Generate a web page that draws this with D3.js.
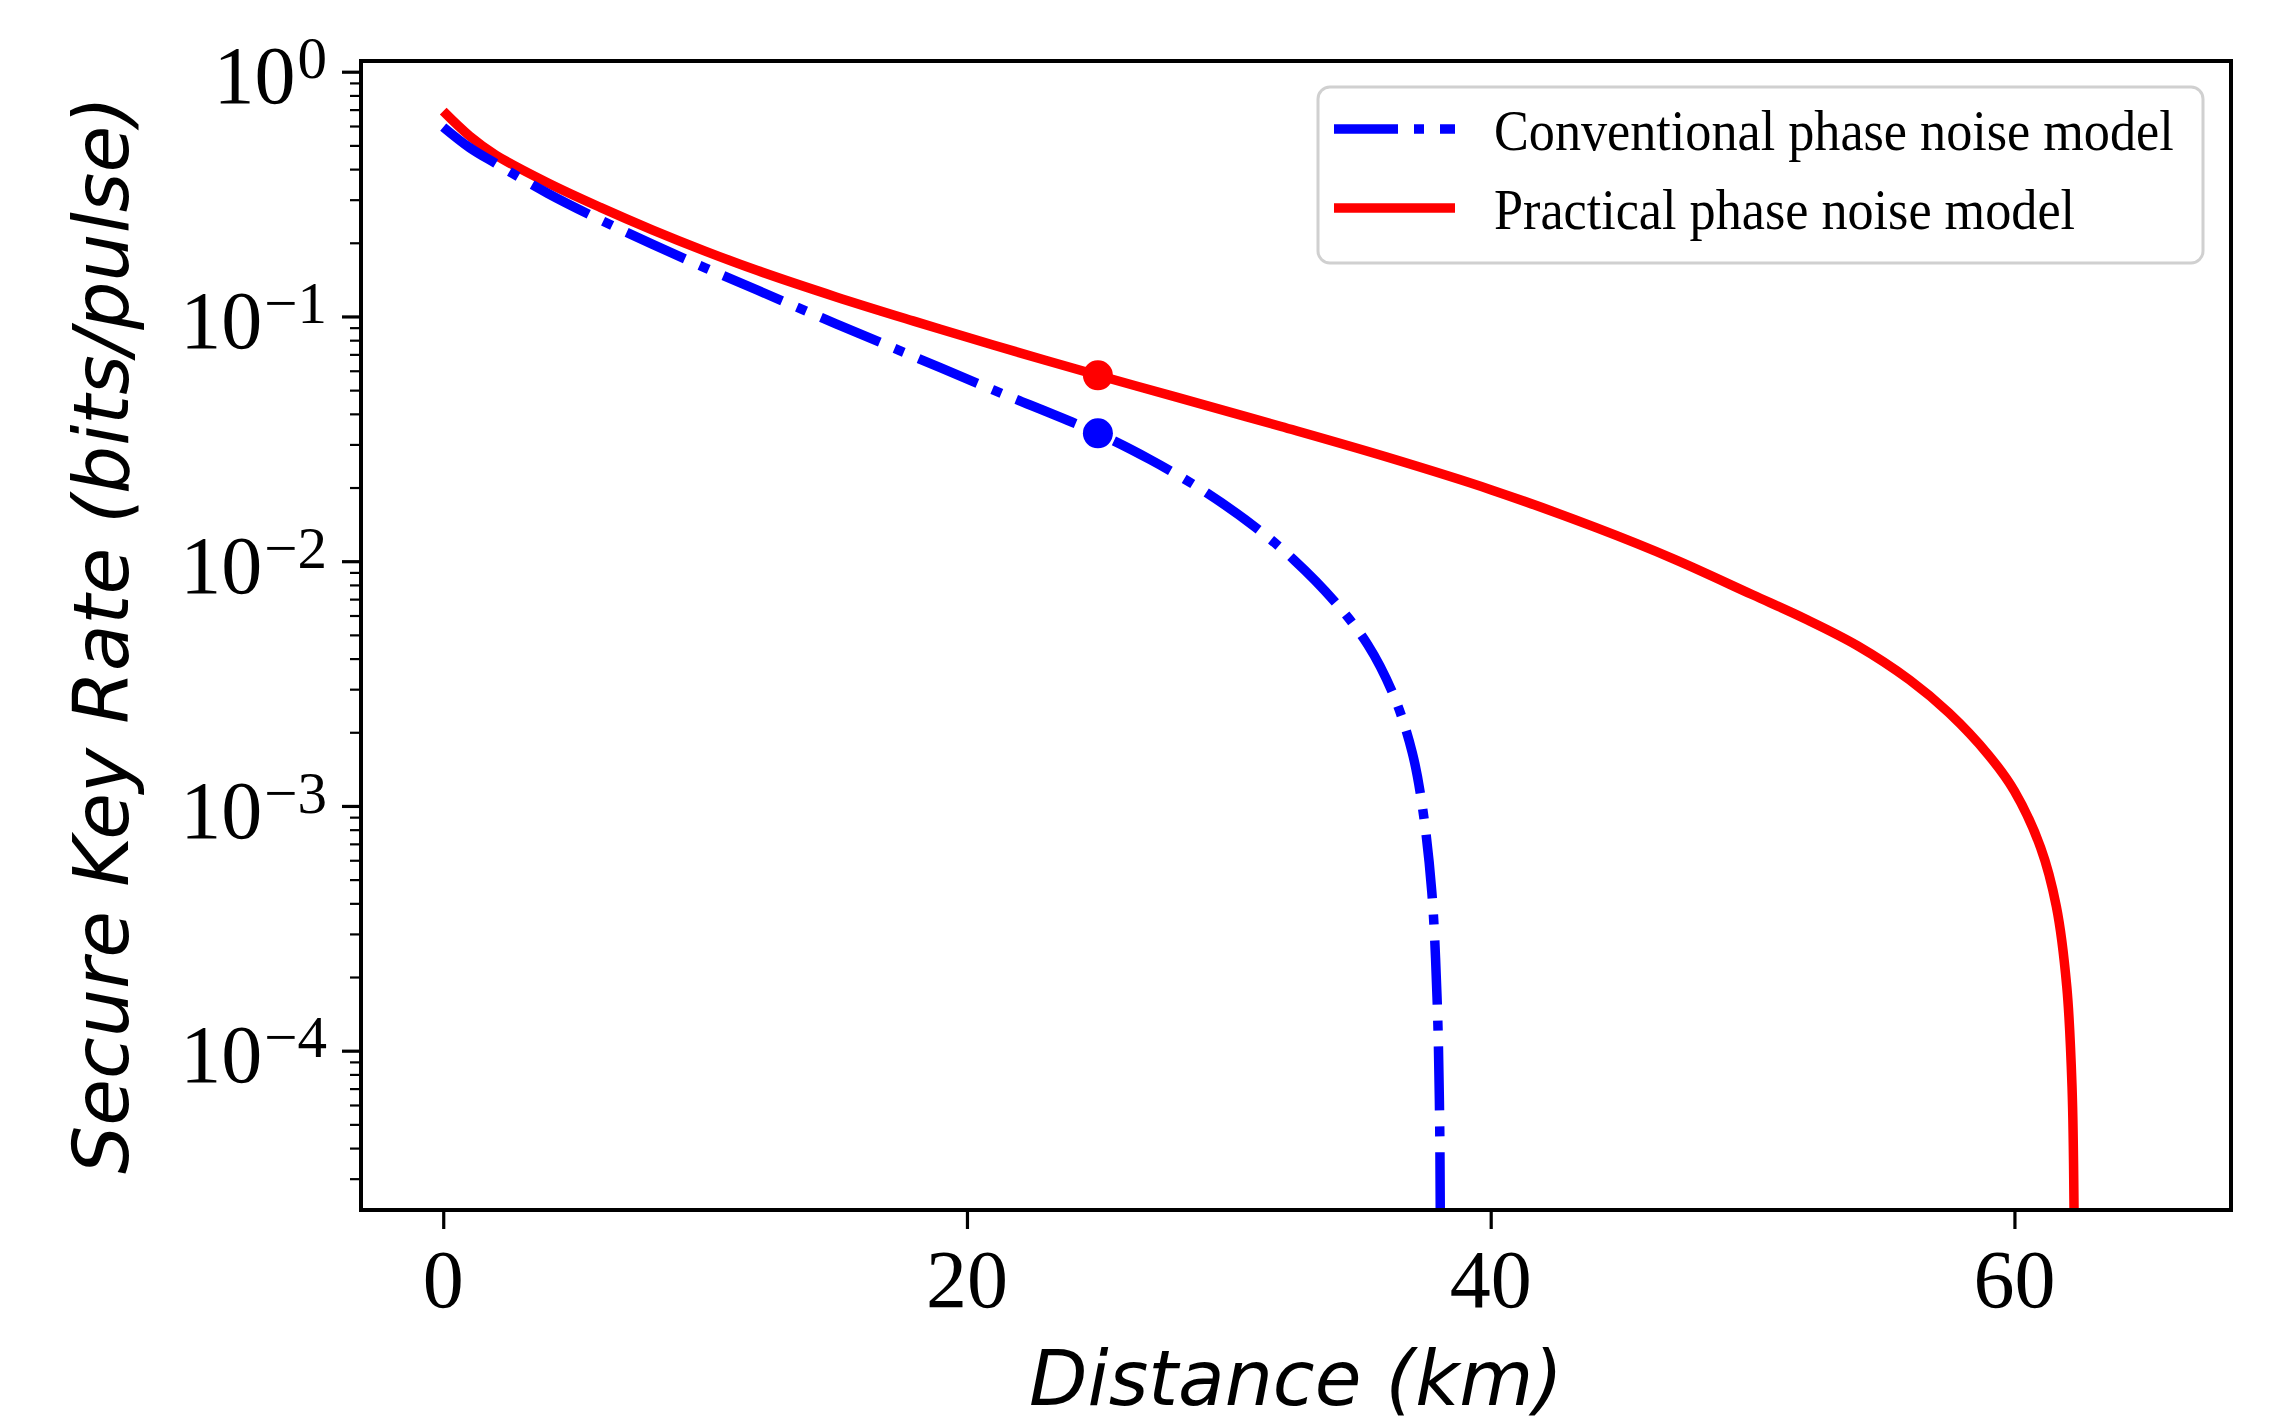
<html>
<head>
<script src="https://d3js.org/d3.v7.min.js"></script>
<style>
  body { margin: 0; background: #fff; }
</style>
</head>
<body>
<svg width="2279" height="1426"></svg>
<script>
// practical phase noise model (red, solid)
const practicalDist = [0, 1, 2, 4, 6, 8, 10, 12, 15, 18, 21, 25, 28, 32, 36, 40, 44, 47, 50, 52, 54, 56, 57.5, 59, 60, 61, 61.6, 62, 62.2, 62.28, 62.32];
const practicalRate = [0.690, 0.547, 0.457, 0.351, 0.279, 0.2254, 0.185, 0.154, 0.1202, 0.0955, 0.0764, 0.0575, 0.0468, 0.0355, 0.0267, 0.0196, 0.01374, 0.0102, 0.00729, 0.00582, 0.00452, 0.00327, 0.0024, 0.00162, 0.00115, 0.000676, 0.000389, 0.000182, 0.0000708, 0.00002, 0.000001];

// conventional phase noise model (blue, dash-dot)
const conventionalDist = [0, 1, 2, 4, 6, 8, 10, 12, 15, 18, 21, 25, 27, 29, 31, 32.5, 34, 35.3, 36.3, 37, 37.4, 37.75, 37.95, 38.04, 38.08, 38.1];
const conventionalRate = [0.594, 0.490, 0.422, 0.318, 0.248, 0.197, 0.158, 0.128, 0.0933, 0.0684, 0.0501, 0.0333, 0.026, 0.0195, 0.0138, 0.0101, 0.00692, 0.00457, 0.00282, 0.00166, 0.000977, 0.000447, 0.000166, 0.000063, 0.000016, 0.000001];

// highlighted points
const markerDist = [25, 25];
const markerRate = [0.0575, 0.0333];

const legendLabels = ['Conventional phase noise model', 'Practical phase noise model'];
const xTicks = [0, 20, 40, 60];
const yExponents = [0, -1, -2, -3, -4];

const plotL = 361, plotR = 2231, plotT = 61, plotB = 1210;
const blue = '#0000ff', red = '#ff0000';
const dash = '64,16,10,16';

const x = d3.scaleLinear().domain([-3.14, 68.27]).range([plotL, plotR]);
const y = d3.scaleLog().domain([2.234e-5, 1.106]).range([plotB, plotT]);

const svg = d3.select('svg');

svg.append('defs').append('clipPath').attr('id', 'plot')
  .append('rect').attr('x', plotL).attr('y', plotT)
  .attr('width', plotR - plotL).attr('height', plotB - plotT);

// minor y ticks
let minor = [];
for (let e = -5; e <= 0; e++)
  for (let m = 2; m <= 9; m++) {
    let v = m * Math.pow(10, e);
    if (v > y.domain()[0] && v < y.domain()[1]) minor.push(v);
  }

let yMinor = svg.append('g').attr('transform', `translate(${plotL},0)`)
  .call(d3.axisLeft(y).tickValues(minor).tickSize(11).tickFormat(''));
yMinor.select('.domain').remove();
yMinor.selectAll('line').attr('stroke', '#000').attr('stroke-width', 2.2);

let yMajor = svg.append('g').attr('transform', `translate(${plotL},0)`)
  .call(d3.axisLeft(y).tickValues(yExponents.map(e => Math.pow(10, e))).tickSize(19).tickFormat(''));
yMajor.select('.domain').remove();
yMajor.selectAll('line').attr('stroke', '#000').attr('stroke-width', 3.2);

let xAxis = svg.append('g').attr('transform', `translate(0,${plotB})`)
  .call(d3.axisBottom(x).tickValues(xTicks).tickSize(19).tickFormat(''));
xAxis.select('.domain').remove();
xAxis.selectAll('line').attr('stroke', '#000').attr('stroke-width', 3.2);

// tick labels
const serif = "'Liberation Serif', 'DejaVu Serif', serif";

svg.append('g').selectAll('text')
  .data(xTicks)
  .join('text')
  .attr('x', d => x(d))
  .attr('y', 1307)
  .attr('text-anchor', 'middle')
  .style('font-family', serif)
  .style('font-size', '82px')
  .text(d => d);

let yl = svg.append('g').selectAll('text')
  .data(yExponents)
  .join('text')
  .attr('x', 327)
  .attr('y', d => y(Math.pow(10, d)) + 31.6)
  .attr('text-anchor', 'end')
  .style('font-family', serif)
  .style('font-size', '82px');
yl.append('tspan').text('10');
yl.append('tspan')
  .attr('dx', 2).attr('dy', -25)
  .style('font-size', '59px')
  .text(d => d === 0 ? '0' : '\u2212' + (-d));

// curves
const line = d3.line()
  .x(d => x(d[0]))
  .y(d => y(d[1]))
  .curve(d3.curveCatmullRom.alpha(0.5));

let plot = svg.append('g').attr('clip-path', 'url(#plot)');

plot.append('path')
  .datum(practicalDist.map((d, i) => [d, practicalRate[i]]))
  .attr('d', line)
  .attr('fill', 'none')
  .attr('stroke', red)
  .attr('stroke-width', 9.5);

plot.append('path')
  .datum(conventionalDist.map((d, i) => [d, conventionalRate[i]]))
  .attr('d', line)
  .attr('fill', 'none')
  .attr('stroke', blue)
  .attr('stroke-width', 9.5)
  .attr('stroke-dasharray', dash);

plot.selectAll('circle')
  .data(markerDist)
  .join('circle')
  .attr('cx', d => x(d))
  .attr('cy', (d, i) => y(markerRate[i]))
  .attr('r', 15)
  .attr('fill', (d, i) => i === 0 ? red : blue);

// frame
svg.append('rect')
  .attr('x', plotL).attr('y', plotT)
  .attr('width', plotR - plotL).attr('height', plotB - plotT)
  .attr('fill', 'none').attr('stroke', '#000').attr('stroke-width', 4);

// legend
let leg = svg.append('g');
leg.append('rect')
  .attr('x', 1318).attr('y', 87).attr('width', 885).attr('height', 176)
  .attr('rx', 12)
  .attr('fill', '#fff').attr('fill-opacity', 0.8)
  .attr('stroke', '#d0d0d0').attr('stroke-width', 3);

let rows = leg.selectAll('g.row')
  .data(legendLabels)
  .join('g')
  .attr('class', 'row')
  .attr('transform', (d, i) => `translate(0,${129 + i * 79})`);

rows.append('line')
  .attr('x1', 1334).attr('x2', 1455)
  .attr('stroke', (d, i) => i === 0 ? blue : red)
  .attr('stroke-width', 9.5)
  .attr('stroke-dasharray', (d, i) => i === 0 ? dash : null);

rows.append('g')
  .attr('transform', 'translate(1494,21) scale(0.9,1)')
  .append('text')
  .style('font-family', serif)
  .style('font-size', '58px')
  .text(d => d);

// axis titles
svg.append('text')
  .attr('x', (plotL + plotR) / 2).attr('y', 1405)
  .attr('text-anchor', 'middle')
  .style('font-family', "'DejaVu Sans', sans-serif")
  .style('font-style', 'italic')
  .style('font-size', '76px')
  .text('Distance (km)');

svg.append('text')
  .attr('transform', 'translate(128,635) rotate(-90)')
  .attr('text-anchor', 'middle')
  .style('font-family', "'DejaVu Sans', sans-serif")
  .style('font-style', 'italic')
  .style('font-size', '76px')
  .text('Secure Key Rate (bits/pulse)');
</script>
</body>
</html>
